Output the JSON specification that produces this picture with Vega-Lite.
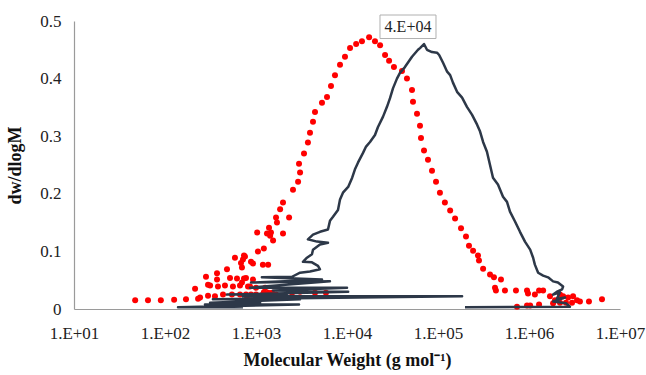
{
  "$schema": "https://vega.github.io/schema/vega-lite/v6.json",
  "width": 546,
  "height": 288,
  "autosize": "none",
  "padding": {"left": 74, "top": 21, "right": 26, "bottom": 66},
  "background": "white",
  "config": {
    "view": {"stroke": null},
    "font": "Liberation Serif",
    "axis": {
      "grid": false,
      "ticks": false,
      "domainColor": "#9a9a9a",
      "domainWidth": 1.2,
      "labelFont": "Liberation Serif",
      "labelFontSize": 17,
      "labelColor": "#222222",
      "labelFlush": false,
      "labelOverlap": false,
      "titleFont": "Liberation Serif",
      "titleFontSize": 18,
      "titleFontWeight": "bold",
      "titleColor": "#111111"
    }
  },
  "datasets": {
    "red": [
      {"M": 47, "w": 0.015}, {"M": 65, "w": 0.015}, {"M": 90, "w": 0.015}, {"M": 126, "w": 0.016}, {"M": 170, "w": 0.017}, {"M": 231, "w": 0.018},
      {"M": 214, "w": 0.035}, {"M": 282, "w": 0.056}, {"M": 373, "w": 0.062}, {"M": 480, "w": 0.069}, {"M": 587, "w": 0.089}, {"M": 757, "w": 0.091},
      {"M": 1050, "w": 0.1}, {"M": 1220, "w": 0.105}, {"M": 1030, "w": 0.133}, {"M": 1320, "w": 0.131}, {"M": 1460, "w": 0.133}, {"M": 1660, "w": 0.159},
      {"M": 1840, "w": 0.173}, {"M": 1980, "w": 0.185}, {"M": 2550, "w": 0.207}, {"M": 2900, "w": 0.221}, {"M": 3050, "w": 0.237}, {"M": 2970, "w": 0.252},
      {"M": 3370, "w": 0.27}, {"M": 3720, "w": 0.289}, {"M": 3920, "w": 0.306}, {"M": 4230, "w": 0.325}, {"M": 4450, "w": 0.342}, {"M": 5310, "w": 0.358},
      {"M": 6030, "w": 0.368}, {"M": 6670, "w": 0.387}, {"M": 7380, "w": 0.406}, {"M": 8380, "w": 0.424}, {"M": 9500, "w": 0.438}, {"M": 10800, "w": 0.453},
      {"M": 12600, "w": 0.46}, {"M": 14600, "w": 0.465}, {"M": 17500, "w": 0.472}, {"M": 20300, "w": 0.465}, {"M": 23100, "w": 0.458}, {"M": 26200, "w": 0.441},
      {"M": 29000, "w": 0.431}, {"M": 32800, "w": 0.42}, {"M": 40200, "w": 0.413}, {"M": 45600, "w": 0.4}, {"M": 51800, "w": 0.38}, {"M": 53100, "w": 0.36},
      {"M": 58800, "w": 0.339}, {"M": 63400, "w": 0.318}, {"M": 65000, "w": 0.297}, {"M": 70200, "w": 0.275}, {"M": 77600, "w": 0.259}, {"M": 85900, "w": 0.24},
      {"M": 95100, "w": 0.221}, {"M": 105000, "w": 0.202}, {"M": 119000, "w": 0.185}, {"M": 136000, "w": 0.171}, {"M": 154000, "w": 0.157}, {"M": 179000, "w": 0.14},
      {"M": 203000, "w": 0.126}, {"M": 219000, "w": 0.11}, {"M": 243000, "w": 0.101}, {"M": 275000, "w": 0.093}, {"M": 282000, "w": 0.084}, {"M": 313000, "w": 0.07},
      {"M": 373000, "w": 0.06}, {"M": 412000, "w": 0.055}, {"M": 492000, "w": 0.051}, {"M": 423000, "w": 0.037}, {"M": 433000, "w": 0.032}, {"M": 544000, "w": 0.032},
      {"M": 719000, "w": 0.032}, {"M": 951000, "w": 0.032}, {"M": 975000, "w": 0.027}, {"M": 1160000, "w": 0.025}, {"M": 1290000, "w": 0.032}, {"M": 1430000, "w": 0.032},
      {"M": 738000, "w": 0.004}, {"M": 951000, "w": 0.006}, {"M": 1030000, "w": 0.006}, {"M": 1290000, "w": 0.008}, {"M": 1700000, "w": 0.022}, {"M": 1930000, "w": 0.015},
      {"M": 2190000, "w": 0.025}, {"M": 2370000, "w": 0.022}, {"M": 2550000, "w": 0.011}, {"M": 2690000, "w": 0.02}, {"M": 3050000, "w": 0.022}, {"M": 3370000, "w": 0.015},
      {"M": 3630000, "w": 0.013}, {"M": 4560000, "w": 0.013}, {"M": 6340000, "w": 0.017}, {"M": 1840000, "w": 0.01}, {"M": 2190000, "w": 0.011}, {"M": 2970000, "w": 0.011},
      {"M": 2310, "w": 0.159}, {"M": 1700, "w": 0.15}, {"M": 1390, "w": 0.141}, {"M": 1430, "w": 0.127}, {"M": 1540, "w": 0.119}, {"M": 1980, "w": 0.131},
      {"M": 684, "w": 0.08}, {"M": 738, "w": 0.093}, {"M": 927, "w": 0.079}, {"M": 1360, "w": 0.077}, {"M": 1190, "w": 0.077}, {"M": 881, "w": 0.082},
      {"M": 719, "w": 0.086}, {"M": 701, "w": 0.072}, {"M": 776, "w": 0.054}, {"M": 927, "w": 0.051}, {"M": 701, "w": 0.046}, {"M": 859, "w": 0.039},
      {"M": 1000, "w": 0.037}, {"M": 1260, "w": 0.037}, {"M": 776, "w": 0.025}, {"M": 881, "w": 0.025}, {"M": 1190, "w": 0.025}, {"M": 1360, "w": 0.028},
      {"M": 1660, "w": 0.025}, {"M": 2490, "w": 0.028}, {"M": 3050, "w": 0.03}, {"M": 4450, "w": 0.028}, {"M": 5870, "w": 0.028}, {"M": 518, "w": 0.054},
      {"M": 618, "w": 0.053}, {"M": 738, "w": 0.053}, {"M": 313, "w": 0.041}, {"M": 382, "w": 0.039}, {"M": 456, "w": 0.041}, {"M": 558, "w": 0.039},
      {"M": 667, "w": 0.041}, {"M": 817, "w": 0.039}, {"M": 243, "w": 0.02}, {"M": 297, "w": 0.023}, {"M": 354, "w": 0.022}, {"M": 434, "w": 0.025},
      {"M": 544, "w": 0.025}, {"M": 667, "w": 0.025}, {"M": 796, "w": 0.022}, {"M": 1000, "w": 0.025}, {"M": 1220, "w": 0.029}, {"M": 1500, "w": 0.028},
      {"M": 373, "w": 0.051}, {"M": 297, "w": 0.042}
    ],
    "line": [
      {"i": 1, "M": 198000, "w": 0.003}, {"i": 2, "M": 2820000, "w": 0.004}, {"i": 3, "M": 2550000, "w": 0.01}, {"i": 4, "M": 1840000, "w": 0.013},
      {"i": 5, "M": 2490000, "w": 0.02}, {"i": 6, "M": 2030000, "w": 0.018}, {"i": 7, "M": 2190000, "w": 0.029}, {"i": 8, "M": 1840000, "w": 0.025},
      {"i": 9, "M": 2030000, "w": 0.03}, {"i": 10, "M": 2310000, "w": 0.034}, {"i": 11, "M": 2370000, "w": 0.039}, {"i": 12, "M": 2080000, "w": 0.046},
      {"i": 13, "M": 1840000, "w": 0.048}, {"i": 14, "M": 1620000, "w": 0.055}, {"i": 15, "M": 1430000, "w": 0.058}, {"i": 16, "M": 1260000, "w": 0.063},
      {"i": 17, "M": 1160000, "w": 0.077}, {"i": 18, "M": 1110000, "w": 0.089}, {"i": 19, "M": 1030000, "w": 0.103}, {"i": 20, "M": 903000, "w": 0.117},
      {"i": 21, "M": 796000, "w": 0.134}, {"i": 22, "M": 702000, "w": 0.152}, {"i": 23, "M": 618000, "w": 0.169}, {"i": 24, "M": 573000, "w": 0.186},
      {"i": 25, "M": 518000, "w": 0.195}, {"i": 26, "M": 456000, "w": 0.216}, {"i": 27, "M": 402000, "w": 0.228}, {"i": 28, "M": 373000, "w": 0.25},
      {"i": 29, "M": 345000, "w": 0.273}, {"i": 30, "M": 313000, "w": 0.29}, {"i": 31, "M": 290000, "w": 0.308}, {"i": 32, "M": 269000, "w": 0.32},
      {"i": 33, "M": 237000, "w": 0.337}, {"i": 34, "M": 208000, "w": 0.351}, {"i": 35, "M": 184000, "w": 0.367}, {"i": 36, "M": 162000, "w": 0.377},
      {"i": 37, "M": 146000, "w": 0.393}, {"i": 38, "M": 136000, "w": 0.406}, {"i": 39, "M": 126000, "w": 0.412}, {"i": 40, "M": 114000, "w": 0.427},
      {"i": 41, "M": 103000, "w": 0.441}, {"i": 42, "M": 97500, "w": 0.445}, {"i": 43, "M": 85900, "w": 0.446}, {"i": 44, "M": 75700, "w": 0.45},
      {"i": 45, "M": 70200, "w": 0.46}, {"i": 46, "M": 63400, "w": 0.453}, {"i": 47, "M": 60300, "w": 0.45}, {"i": 48, "M": 51800, "w": 0.438},
      {"i": 49, "M": 43300, "w": 0.42}, {"i": 50, "M": 38200, "w": 0.41}, {"i": 51, "M": 35400, "w": 0.4}, {"i": 52, "M": 32000, "w": 0.383},
      {"i": 53, "M": 29700, "w": 0.366}, {"i": 54, "M": 27500, "w": 0.351}, {"i": 55, "M": 24900, "w": 0.334}, {"i": 56, "M": 21900, "w": 0.316},
      {"i": 57, "M": 20300, "w": 0.302}, {"i": 58, "M": 17900, "w": 0.29}, {"i": 59, "M": 16200, "w": 0.282}, {"i": 60, "M": 15000, "w": 0.271},
      {"i": 61, "M": 13200, "w": 0.254}, {"i": 62, "M": 12200, "w": 0.242}, {"i": 63, "M": 11400, "w": 0.228}, {"i": 64, "M": 10300, "w": 0.212},
      {"i": 65, "M": 9030, "w": 0.202}, {"i": 66, "M": 8380, "w": 0.19}, {"i": 67, "M": 7960, "w": 0.172}, {"i": 68, "M": 7020, "w": 0.16},
      {"i": 69, "M": 6500, "w": 0.153}, {"i": 70, "M": 6180, "w": 0.138}, {"i": 71, "M": 5050, "w": 0.134}, {"i": 72, "M": 4230, "w": 0.129},
      {"i": 73, "M": 3720, "w": 0.121}, {"i": 74, "M": 4680, "w": 0.117}, {"i": 75, "M": 6180, "w": 0.115}, {"i": 76, "M": 5050, "w": 0.112},
      {"i": 77, "M": 4230, "w": 0.103}, {"i": 78, "M": 4120, "w": 0.095}, {"i": 79, "M": 3630, "w": 0.089}, {"i": 80, "M": 3280, "w": 0.082},
      {"i": 81, "M": 4120, "w": 0.081}, {"i": 82, "M": 4800, "w": 0.075}, {"i": 83, "M": 5050, "w": 0.069}, {"i": 84, "M": 3920, "w": 0.065},
      {"i": 85, "M": 3050, "w": 0.063}, {"i": 86, "M": 2490, "w": 0.056}, {"i": 87, "M": 1160, "w": 0.055}, {"i": 88, "M": 5310, "w": 0.051},
      {"i": 89, "M": 881, "w": 0.046}, {"i": 90, "M": 6500, "w": 0.048}, {"i": 91, "M": 859, "w": 0.037}, {"i": 92, "M": 10000, "w": 0.037},
      {"i": 93, "M": 1540, "w": 0.032}, {"i": 94, "M": 10300, "w": 0.03}, {"i": 95, "M": 480, "w": 0.025}, {"i": 96, "M": 2190, "w": 0.025},
      {"i": 97, "M": 719, "w": 0.022}, {"i": 98, "M": 184000, "w": 0.022}, {"i": 99, "M": 336, "w": 0.017}, {"i": 100, "M": 3050, "w": 0.017},
      {"i": 101, "M": 313, "w": 0.011}, {"i": 102, "M": 1110, "w": 0.011}, {"i": 103, "M": 275, "w": 0.008}, {"i": 104, "M": 2970, "w": 0.008},
      {"i": 105, "M": 139, "w": 0.003}, {"i": 106, "M": 719, "w": 0.003}
    ],
    "note": [{"M": 46800, "w": 0.49, "label": "4.E+04"}]
  },
  "encoding": {
    "x": {
      "field": "M", "type": "quantitative",
      "scale": {"type": "log", "domain": [10, 10000000], "nice": false},
      "axis": {
        "values": [10, 100, 1000, 10000, 100000, 1000000, 10000000],
        "labelExpr": "'1.E+0' + format(log(datum.value) / LN10, '.0f')",
        "labelPadding": 16,
        "title": "Molecular Weight (g mol⁻¹)",
        "titlePadding": 10
      }
    },
    "y": {
      "field": "w", "type": "quantitative",
      "scale": {"domain": [0, 0.5], "nice": false},
      "axis": {
        "values": [0, 0.1, 0.2, 0.3, 0.4, 0.5],
        "format": ".1~f",
        "labelPadding": 13,
        "title": "dw/dlogM",
        "titlePadding": 15
      }
    }
  },
  "layer": [
    {
      "data": {"name": "red"},
      "mark": {"type": "point", "shape": "circle", "filled": true, "size": 36, "color": "#ff0000", "opacity": 1}
    },
    {
      "data": {"name": "line"},
      "mark": {"type": "line", "color": "#2d3848", "strokeWidth": 2.5, "strokeJoin": "round"},
      "encoding": {"order": {"field": "i", "type": "quantitative"}}
    },
    {
      "data": {"name": "note"},
      "mark": {"type": "point", "shape": "M-1,-0.42H1V0.42H-1Z", "size": 3136, "filled": false, "stroke": "#b0b0b0", "strokeWidth": 1, "fill": "white", "opacity": 1}
    },
    {
      "data": {"name": "note"},
      "mark": {"type": "text", "font": "Liberation Serif", "fontSize": 16, "color": "#222222", "baseline": "middle", "align": "center"},
      "encoding": {"text": {"field": "label"}}
    }
  ]
}
